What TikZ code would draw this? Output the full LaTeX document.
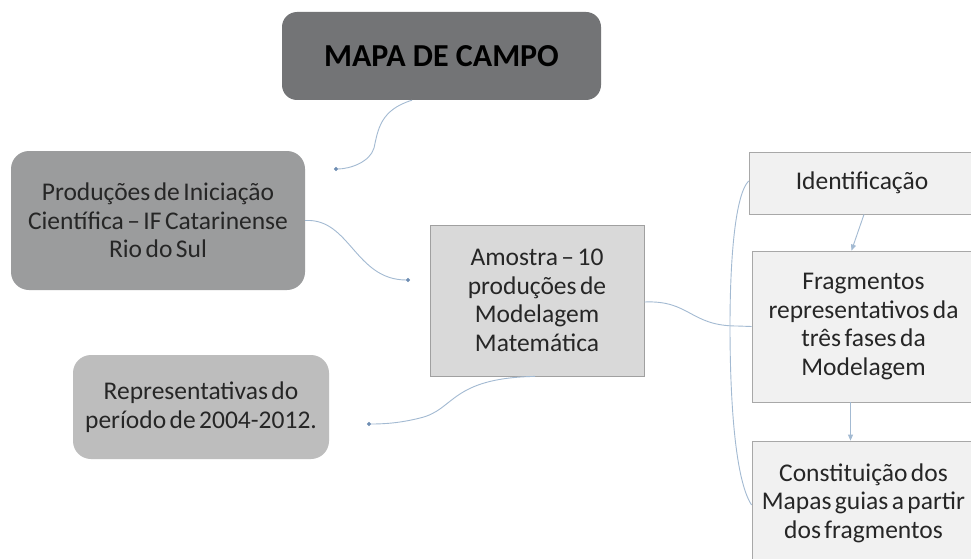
\documentclass[tikz,border=0pt]{standalone}
\usepackage{fontspec}
\setmainfont{Carlito}[WordSpace=0.6]
\newfontfamily\titlefont{Carlito}
\usetikzlibrary{arrows.meta}
\definecolor{mapafill}{HTML}{737476}
\definecolor{prodfill}{HTML}{9B9C9D}
\definecolor{reprfill}{HTML}{BDBDBD}
\definecolor{amofill}{HTML}{D9D9D9}
\definecolor{amoline}{HTML}{A0A0A0}
\definecolor{rfill}{HTML}{F1F1F1}
\definecolor{rline}{HTML}{A8A8A8}
\definecolor{link}{HTML}{A3BAD2}
\definecolor{dotc}{HTML}{6E8DB3}
\definecolor{txtc}{HTML}{262626}
\begin{document}
\begin{tikzpicture}[x=1pt,y=-1pt,
  txt/.style={align=center, inner sep=0pt, text=txtc, font=\fontsize{25.5}{28.5}\selectfont},
  roundbox/.style={txt, rounded corners=18pt},
  sqbox/.style={txt, draw, line width=0.8pt},
  conn/.style={draw=link, line width=0.9pt},
  dotend/.style={conn, -{Circle[length=4pt, fill=dotc, color=dotc]}},
  arrowend/.style={conn, -{Triangle[length=6pt, width=5pt, fill=link, color=link]}}]
\useasboundingbox (0,0) rectangle (971,559);
\fill[white] (0,0) rectangle (971,559);

% nodes
\node[roundbox, fill=mapafill, rounded corners=15pt, minimum width=319pt, minimum height=88pt,
      text=black, font=\titlefont\fontsize{32}{36}\selectfont\bfseries] (mapa) at (441.5,56) {MAPA DE CAMPO};
\node[roundbox, fill=prodfill, minimum width=294pt, minimum height=139pt] (prod) at (158,220.5)
  {Produções de Iniciação\\Científica – IF Catarinense\\Rio do Sul};
\node[sqbox, fill=amofill, draw=amoline, minimum width=214pt, minimum height=151pt] (amo) at (537,300.5)
  {Amostra – 10\\produções de\\Modelagem\\Matemática};
\node[roundbox, fill=reprfill, minimum width=256pt, minimum height=104pt] (repr) at (201,407)
  {Representativas do\\período de 2004-2012.};
\node[sqbox, fill=rfill, draw=rline, minimum width=226pt, minimum height=62pt] (ident) at (862,183)
  {Identificação};
\node[sqbox, fill=rfill, draw=rline, minimum width=223pt, minimum height=151pt] (frag) at (863.5,326.5)
  {Fragmentos\\representativos da\\três fases da\\Modelagem};
\node[sqbox, fill=rfill, draw=rline, minimum width=223pt, minimum height=124pt] (const) at (863.5,503)
  {Constituição dos\\Mapas guias a partir\\dos fragmentos};

% free ends
\coordinate (d1) at (334,169);
\coordinate (d2) at (410,280);
\coordinate (d3) at (367,424);

% connectors
\draw[dotend] ([xshift=-29.5pt]mapa.south) .. controls (380,110) and (378,130) .. (374,148)
  .. controls (370,162) and (350,169) .. (d1);
\draw[dotend] (prod.east) .. controls (350,218) and (355,280) .. (d2);
\draw[dotend] ([xshift=-2pt]amo.south) .. controls (450,378) and (455,410) .. (420,418)
  .. controls (400,423) and (385,424) .. (d3);
\draw[conn] ([yshift=-1.5pt]amo.east) .. controls (690,300) and (690,326) .. (737,326) -- (frag.west);
\draw[conn] ([yshift=2pt]ident.west) .. controls (735,195) and (730,260) .. (730,326)
  .. controls (730,400) and (735,480) .. ([yshift=-2pt]const.west);
\draw[arrowend] ([xshift=2pt]ident.south) -- ([xshift=-12pt]frag.north);
\draw[arrowend] ([xshift=-13pt]frag.south) -- ([xshift=-13pt]const.north);
\end{tikzpicture}
\end{document}
